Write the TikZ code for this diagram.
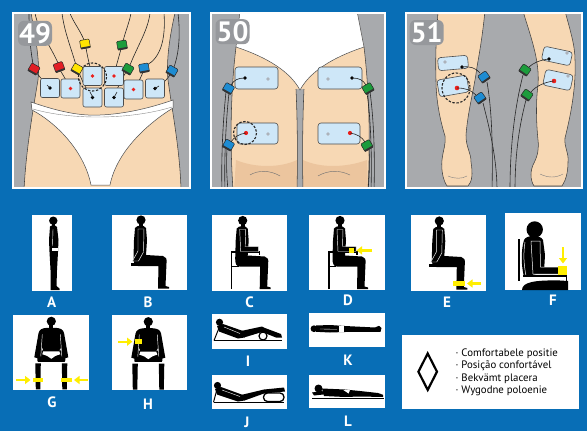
\documentclass[tikz,border=0pt]{standalone}
\usepackage{fontspec}
\setmainfont{PT Sans}
\usetikzlibrary{arrows.meta}

\definecolor{bgblue}{RGB}{8,110,182}
\definecolor{panelgray}{RGB}{168,170,173}
\definecolor{numgray}{RGB}{150,152,156}
\definecolor{skin}{RGB}{247,216,180}
\definecolor{skinshade}{RGB}{236,197,158}
\definecolor{padblue}{RGB}{206,231,248}
\definecolor{dotred}{RGB}{236,32,28}
\definecolor{dotgray}{RGB}{172,178,186}
\definecolor{conred}{RGB}{226,30,36}
\definecolor{conyellow}{RGB}{255,228,0}
\definecolor{congreen}{RGB}{28,156,60}
\definecolor{conblue}{RGB}{30,140,210}
\definecolor{cuff}{RGB}{255,238,0}

\tikzset{
  panelframe/.style={fill=panelgray, draw=white, line width=1.8pt},
  card/.style={fill=white, draw=none},
  outline/.style={draw=black!75, line width=0.55pt},
  cable/.style={draw=black!85, line width=0.6pt},
  padshape/.style={fill=padblue, draw=black!70, line width=0.6pt},
  ring/.style={draw=black!85, line width=1.1pt, dash pattern=on 2.4pt off 1.6pt},
  yarrow/.style={draw=cuff, line width=2.4pt, -{Triangle[width=8pt,length=5.5pt]}},
  letter/.style={text=white, font=\fontsize{15}{15}\selectfont\bfseries, inner sep=0pt},
  legendtext/.style={font=\fontsize{10.8}{12.4}\selectfont, align=left, anchor=west, inner sep=0pt},
}

% coloured electrode plug: x, y, rotation, colour
\newcommand{\plug}[4]{%
  \begin{scope}[shift={(#1,#2)}, rotate=#3]
    \filldraw[fill=#4, draw=black!85, line width=0.5pt, rounded corners=1pt] (-4.8,-4.3) rectangle (4.8,4.3);
    \fill[black!80] (-4.8,2.8) rectangle (4.8,4.6);
  \end{scope}}
% square abdominal pad: x, y, colour of the contact point
\newcommand{\sqpad}[3]{%
  \filldraw[padshape, rounded corners=2pt] ({#1-9.5},{#2-9.5}) rectangle ({#1+9.5},{#2+9.5});
  \fill[#3] (#1,#2) circle (1.9);}
% rectangular pad: x, y, width, height, rotation
\newcommand{\rpad}[5]{%
  \begin{scope}[shift={(#1,#2)}, rotate=#5]
    \filldraw[padshape, rounded corners=3pt] ({-#3/2},{-#4/2}) rectangle ({#3/2},{#4/2});
  \end{scope}}
% seated person seen from the side, origin at the back of the hip
\newcommand{\sideSitter}[2]{%
  \begin{scope}[shift={(#1,#2)}]
    \fill (6,-42) circle (4.6);
    \fill (4,-39) rectangle (8,-35);
    \fill (0,-34) .. controls (2,-37) and (9,-37.5) .. (11,-34) -- (12,-22) -- (11,-7) -- (28,-6)
      .. controls (31,-5.5) and (32,-3) .. (31.5,1) -- (30.5,24) -- (34,25) -- (34,26.5) -- (23,26.5)
      -- (23.5,4) -- (3,4) .. controls (-0.5,4) and (-1.5,1) .. (-1.5,-4) -- (-1,-22) -- cycle;
  \end{scope}}
\newcommand{\armDown}[2]{%
  \filldraw[black, draw=white, line width=0.45pt, shift={(#1,#2)}] (3,-33) -- (9,-33) -- (8.5,-10) -- (3.5,-1) -- (-2.5,-1) -- (3,-11) -- cycle;}
\newcommand{\armFwd}[2]{%
  \filldraw[black, draw=white, line width=0.45pt, shift={(#1,#2)}] (3,-33) -- (9,-33) -- (8.5,-16) -- (22,-16) -- (22,-11) -- (4,-11) -- cycle;}
\newcommand{\stool}[2]{\fill[shift={(#1,#2)}] (-4.5,1) rectangle (5,4);}
\newcommand{\armchair}[2]{%
  \draw[line width=1.5pt, shift={(#1,#2)}] (-5,26.5) -- (-5,-10.5) -- (23,-10.5) -- (23,-7.5);
  \draw[line width=1.5pt, shift={(#1,#2)}] (-5,4) -- (2,4);}
% seated person seen from the front, origin at the centre of the head
\newcommand{\frontSitter}[2]{%
  \begin{scope}[shift={(#1,#2)}]
    \fill (0,0) circle (4.6);
    \fill (-2,3) rectangle (2,7.5);
    \fill (-4,6.5) -- (4,6.5) .. controls (9,6.8) and (12,8) .. (12.8,12) -- (17,36) -- (12,37.5) -- (9,26) -- (8,30)
       -- (-8,30) -- (-9,26) -- (-12,37.5) -- (-17,36) -- (-12.8,12) .. controls (-12,8) and (-9,6.8) .. cycle;
    \fill[rounded corners=2pt] (-14,29) rectangle (14,41);
    \draw[white, line width=0.45pt] (-9,13) -- (-10.5,35) (9,13) -- (10.5,35);
    \fill[white] (-8,30) -- (8,30) -- (9,33) .. controls (5,34) and (2,35.5) .. (0,37.5) .. controls (-2,35.5) and (-5,34) .. (-9,33) -- cycle;
    \draw[white, line width=0.6pt] (-17,40.5) -- (17,40.5);
    \fill (-16,42) -- (-10.5,42) -- (-11,68) -- (-15.5,68) -- cycle;
    \fill (10.5,42) -- (16,42) -- (15.5,68) -- (11,68) -- cycle;
  \end{scope}}
% panel number on a soft grey patch
\newcommand{\panelnum}[4]{%
  \fill[numgray, rounded corners=6pt] ({#1-17},{#2-12.5}) rectangle ({#1+17},{#2+12.5});
  \node[text=white, font=\fontsize{28}{28}\selectfont\bfseries, inner sep=0pt] (#4) at (#1,#2) {#3};}

\begin{document}
\begin{tikzpicture}[x=1pt,y=-1pt]
\useasboundingbox (0,0) rectangle (587,431);
\fill[bgblue] (0,0) rectangle (587,431);

%% ---------------- panel 49: abdomen ----------------
\fill[panelgray] (13,13) rectangle (190,188);
\begin{scope}
  \clip (13,13) rectangle (190,188);
  \fill[skin] (31,13) .. controls (36,40) and (40,62) .. (38,80) .. controls (33,110) and (26,150) .. (24,190)
    -- (181,190) .. controls (180,150) and (172,110) .. (168,80) .. controls (166,60) and (170,35) .. (175,13) -- cycle;
  \draw[outline] (31,13) .. controls (36,40) and (40,62) .. (38,80) .. controls (33,110) and (26,150) .. (24,190);
  \draw[outline] (181,190) .. controls (180,150) and (172,110) .. (168,80) .. controls (166,60) and (170,35) .. (175,13);
  \filldraw[fill=white, draw=black!70, line width=0.5pt] (31,102) .. controls (60,112) and (80,116) .. (100,115)
    .. controls (125,114) and (150,108) .. (173,100) -- (173,108) .. controls (150,122) and (117,150) .. (110,185)
    -- (91,185) .. controls (84,150) and (55,122) .. (32,110) -- cycle;
  \draw[black!45, line width=0.4pt] (33,109) .. controls (70,120) and (130,120) .. (172,107);
  % leads
  \draw[cable] (34,69) .. controls (30,50) and (29,30) .. (29,13);
  \draw[cable] (58,63) .. controls (50,45) and (38,30) .. (35,13);
  \draw[cable] (84,40) .. controls (80,30) and (72,20) .. (70,13);
  \draw[cable] (76,65) .. controls (70,45) and (64,30) .. (62,13);
  \draw[cable] (123,41) .. controls (126,30) and (130,20) .. (131,13);
  \draw[cable] (130,65) .. controls (138,45) and (148,30) .. (150,13);
  \draw[cable] (147,65) .. controls (160,58) and (166,40) .. (164,13);
  \draw[cable] (174,67) .. controls (180,50) and (180,30) .. (178,13);
  \draw[cable] (36,72) .. controls (42,80) and (47,85) .. (50,88);
  \draw[cable] (60,70) .. controls (65,78) and (68,84) .. (70,88);
  \draw[cable] (86,48) .. controls (88,60) and (91,70) .. (92,76);
  \draw[cable] (79,72) .. controls (82,82) and (88,92) .. (93,98);
  \draw[cable] (121,49) .. controls (118,60) and (115,70) .. (114,76);
  \draw[cable] (126,72) .. controls (120,82) and (116,92) .. (113,98);
  \draw[cable] (143,72) .. controls (140,80) and (136,86) .. (134,90);
  \draw[cable] (170,75) .. controls (165,82) and (160,86) .. (156,89);
\end{scope}
% pads
\sqpad{50}{88}{black}
\sqpad{70.5}{88.5}{dotred}
\sqpad{92.5}{76}{dotred}
\sqpad{114}{76}{dotred}
\sqpad{92.5}{97.5}{black}
\sqpad{114}{97.5}{black}
\sqpad{133.5}{89.5}{dotred}
\sqpad{155}{88.5}{black}
\draw[cable] (50,88) -- (47,85);
\draw[cable] (93,97.5) -- (90,92);
\draw[cable] (114,97.5) -- (117,92);
\draw[cable] (155,88.5) -- (159,86);
\draw[ring] (92.5,77) circle (14);
% plugs
\plug{34}{69}{-30}{conred}
\plug{59}{67}{20}{conred}
\plug{85}{44}{10}{conyellow}
\plug{77}{69}{-30}{conyellow}
\plug{122}{45}{10}{congreen}
\plug{128}{69}{-30}{congreen}
\plug{144}{68}{10}{conblue}
\plug{172}{71}{-30}{conblue}
\panelnum{35}{33.3}{49}{n49}
\draw[white, line width=1.8pt] (13,13) rectangle (190,188);

%% ---------------- panel 50: thighs ----------------
\fill[panelgray] (211,13) rectangle (385,188);
\begin{scope}
  \clip (211,13) rectangle (385,188);
  \fill[skin] (240,13) -- (236,47) .. controls (232,80) and (229,130) .. (233,190) -- (297,190)
    .. controls (298,150) and (297,110) .. (296,89) -- (304,89) .. controls (303,110) and (302,150) .. (303,190)
    -- (368,190) .. controls (371,130) and (368,80) .. (364,47) -- (357,13) -- cycle;
  \fill[skinshade] (236,160) .. controls (255,168) and (280,168) .. (297,160) -- (297,190) -- (234,190) -- cycle;
  \fill[skinshade] (303,160) .. controls (320,168) and (345,168) .. (367,160) -- (368,190) -- (303,190) -- cycle;
  \draw[outline] (236,47) .. controls (232,80) and (229,130) .. (233,190);
  \draw[outline] (297,190) .. controls (298,150) and (297,110) .. (296,89);
  \draw[outline] (304,89) .. controls (303,110) and (302,150) .. (303,190);
  \draw[outline] (368,190) .. controls (371,130) and (368,80) .. (364,47);
  \draw[black!55, line width=0.45pt] (250,175) .. controls (258,170) and (270,170) .. (280,176);
  \draw[black!55, line width=0.45pt] (318,176) .. controls (328,170) and (340,170) .. (350,175);
  \filldraw[fill=white, draw=black!70, line width=0.5pt] (240,11) -- (357,11) -- (364,47)
    .. controls (340,55) and (312,68) .. (300,90) .. controls (288,68) and (260,55) .. (236,47) -- cycle;
  % leads
  \draw[cable] (226,92) .. controls (223,120) and (221,160) .. (222,190);
  \draw[cable] (229,93) .. controls (226,120) and (224,160) .. (225,190);
  \draw[cable] (227,149) .. controls (226,165) and (227,180) .. (228,190);
  \draw[cable] (370,92) .. controls (374,120) and (375,160) .. (374,190);
  \draw[cable] (367,93) .. controls (371,120) and (372,160) .. (371,190);
  \draw[cable] (369,150) .. controls (370,165) and (369,180) .. (368,190);
\end{scope}
\rpad{256.5}{78}{43}{22}{0}
\rpad{340}{78}{44}{22}{0}
\rpad{257.5}{133.5}{41}{21}{0}
\rpad{339}{133.5}{42}{21}{0}
\fill[black] (245,78) circle (1.9);
\fill[dotgray] (268,79) circle (1.9);
\fill[dotgray] (328,79) circle (1.9);
\fill[black] (352,78) circle (1.9);
\fill[dotred] (246,133) circle (2.1);
\fill[dotgray] (268,134) circle (1.9);
\fill[dotgray] (328,134) circle (1.9);
\fill[dotred] (350,133) circle (2.1);
\draw[cable] (245,78) .. controls (238,78) and (234,80) .. (231,85);
\draw[cable] (246,133) .. controls (239,134) and (234,137) .. (231,142);
\draw[cable] (352,78) .. controls (359,78) and (363,80) .. (366,85);
\draw[cable] (350,133) .. controls (357,134) and (362,137) .. (365,142);
\draw[ring] (245,133) circle (11.5);
\plug{228.5}{88.5}{-30}{conblue}
\plug{228.5}{145}{-30}{conblue}
\plug{368}{88.5}{30}{congreen}
\plug{367}{145.5}{30}{congreen}
\panelnum{232.5}{31.7}{50}{n50}
\draw[white, line width=1.8pt] (211,13) rectangle (385,188);

%% ---------------- panel 51: calves ----------------
\fill[panelgray] (406,13) rectangle (582,188);
\begin{scope}
  \clip (406,13) rectangle (582,188);
  % left leg
  \filldraw[fill=skin, draw=black!75, line width=0.55pt] (438,11) -- (485,11) .. controls (482,40) and (479,55) .. (477,67)
    .. controls (474,90) and (468,110) .. (466,135) .. controls (466,148) and (471,152) .. (471,162)
    .. controls (473,174) and (472,182) .. (468,186) -- (447,186) .. controls (443,180) and (441,170) .. (442,160)
    .. controls (443,150) and (446,145) .. (445,136) .. controls (440,120) and (436,100) .. (436,80)
    .. controls (435,50) and (437,30) .. (438,11) -- cycle;
  % right leg
  \filldraw[fill=skin, draw=black!75, line width=0.55pt] (523,11) -- (565,11) .. controls (570,30) and (575,45) .. (575,60)
    .. controls (576,85) and (572,110) .. (565,138) .. controls (564,148) and (569,152) .. (568,162)
    .. controls (568,172) and (566,180) .. (562,186) -- (534,186) .. controls (530,180) and (530,170) .. (534,163)
    .. controls (538,155) and (539,148) .. (538,140) .. controls (536,120) and (536,100) .. (538,85)
    .. controls (540,60) and (530,35) .. (523,11) -- cycle;
  \draw[black!50, line width=0.4pt] (448,176) .. controls (455,179) and (462,179) .. (467,176);
  \draw[black!50, line width=0.4pt] (540,174) .. controls (548,178) and (556,178) .. (563,174);
  % leads
  \draw[cable] (487,82) .. controls (492,110) and (493,150) .. (492,190);
  \draw[cable] (483,103) .. controls (490,130) and (497,160) .. (497,190);
  \draw[cable] (523,75) .. controls (514,110) and (510,150) .. (510,190);
  \draw[cable] (526,100) .. controls (518,130) and (515,160) .. (515,190);
\end{scope}
\rpad{453}{63}{30}{13}{5}
\rpad{453}{86}{30}{17}{10}
\rpad{557}{56}{29}{14}{-12}
\rpad{558}{80}{28}{16}{-12}
\fill[dotgray] (445,62) circle (1.9);
\fill[black] (462,67) circle (1.9);
\fill[dotred] (457,88) circle (2.3);
\fill[black] (549,59) circle (1.9);
\fill[dotgray] (567,53) circle (1.9);
\fill[dotred] (554,81) circle (2.3);
\fill[dotgray] (568,76) circle (1.9);
\draw[cable] (462,67) .. controls (470,66) and (476,68) .. (480,73);
\draw[cable] (457,88) .. controls (465,88) and (471,90) .. (476,95);
\draw[cable] (549,59) .. controls (540,60) and (533,63) .. (529,67);
\draw[cable] (554,81) .. controls (545,82) and (536,86) .. (531,92);
\draw[ring] (456,88) ellipse (14 and 15);
\plug{484}{77}{35}{conblue}
\plug{480}{98}{35}{conblue}
\plug{525}{70}{-35}{congreen}
\plug{527}{95}{-35}{congreen}
\panelnum{426.7}{32.5}{51}{n51}
\draw[white, line width=1.8pt] (406,13) rectangle (582,188);

%% ---------------- positions ----------------
% A: standing
\fill[card] (32.3,215) rectangle (71.7,290.7);
\fill (53.3,220.7) circle (4.2);
\fill (51.5,224) rectangle (55,227);
\fill (50,226.5) .. controls (51,225) and (56,225) .. (57,227) -- (58.5,240) -- (58,252) -- (57,270) -- (56.5,286)
  -- (59.5,288.5) -- (59.5,290) -- (50.5,290) -- (50.5,270) -- (49.5,252) -- (49,240) -- cycle;
\fill[white] (51.5,248) rectangle (57.5,250.7);
\draw[white, line width=0.4pt] (53,229) -- (52.5,246);
\node[letter] (la) at (51.7,302) {A};

% B: on a stool
\fill[card] (111.7,215) rectangle (187.3,290);
\sideSitter{135}{262}
\armDown{135}{262}
\stool{135}{262}
\node[letter] (lb) at (148,302) {B};

% C: in an armchair
\fill[card] (212.3,215) rectangle (287.3,290.7);
\armchair{236.7}{262.5}
\sideSitter{236.7}{262.5}
\armFwd{236.7}{262.5}
\node[letter] (lc) at (249.5,302) {C};

% D: armchair, band on the forearm
\fill[card] (309.3,215) rectangle (385,290);
\armchair{334}{262.5}
\sideSitter{334}{262.5}
\armFwd{334}{262.5}
\fill[cuff] (349.3,247.5) rectangle (354.3,253.3);
\draw[yarrow] (372,250.4) -- (356.5,250.4);
\node[letter] (ld) at (348,300.5) {D};

% E: stool, band on the ankle
\fill[card] (410.7,215) rectangle (486,290.7);
\sideSitter{433.3}{263}
\armDown{433.3}{263}
\stool{433.3}{263}
\fill[cuff] (453,281) rectangle (465,286);
\draw[yarrow] (480.5,283.5) -- (467,283.5);
\node[letter] (le) at (447,302) {E};

% F: close-up, band on the wrist
\fill[card] (505,213.3) rectangle (580.7,290);
\draw[line width=1.4pt] (519,239) -- (519,281);
\fill (534.7,229.5) circle (8.2);
\fill (524,240) .. controls (526,235) and (540,234) .. (543,240) -- (545,255) -- (544,272) -- (524,277)
  .. controls (521,265) and (521,250) .. cycle;
\filldraw[black, draw=white, line width=0.5pt] (531,241) -- (540,241) -- (540.5,267) -- (559,267) -- (559,274)
  -- (533,274) -- cycle;
\draw[white, line width=0.5pt] (525,242) .. controls (523,255) and (524,265) .. (526,276);
\fill (522,290) .. controls (522,282) and (535,280) .. (560,280.5) -- (568,281) -- (568,290) -- cycle;
\draw[line width=1.2pt] (523,276) -- (566.5,276) -- (566.5,287);
\fill[cuff] (558,266) rectangle (567,274.5);
\draw[yarrow] (563,247) -- (563,263.5);
\node[letter] (lf) at (553,300.5) {F};

% G: front view, bands on both shins
\fill[card] (13.3,315) rectangle (89,390);
\frontSitter{51.3}{321.3}
\fill[cuff] (33,377.8) rectangle (42.7,382.3);
\fill[cuff] (61,377.8) rectangle (71.5,382.3);
\draw[yarrow] (16,380) -- (30.5,380);
\draw[yarrow] (87.5,380) -- (74,380);
\node[letter] (lg) at (52,402.5) {G};

% H: front view, band on the upper arm
\fill[card] (111.7,315) rectangle (187.3,390);
\frontSitter{148.3}{321.7}
\fill[cuff] (134.5,339) rectangle (141.7,344.3);
\draw[yarrow] (118,341.7) -- (132.5,341.7);
\node[letter] (lh) at (148,404) {H};

% I: half reclined, roll under the knees
\fill[card] (211.7,314) rectangle (286.7,349);
\draw[line width=0.9pt] (214,340.5) -- (282,340.5);
\draw[line width=1pt] (214,340.5) -- (219,328);
\fill (219.5,322.3) circle (3.6);
\fill (217,326) -- (223,324) -- (243,331) -- (244.5,337.5) -- (238,338.5) -- (219,331.5) -- cycle;
\fill (241,331) -- (262,326.5) -- (265,328) -- (281,334) -- (282,337.5) -- (276,337.5) -- (262,332) -- (244,337.5) -- cycle;
\draw[white, line width=0.4pt] (224,327) -- (240,333.5);
\filldraw[fill=white, draw=black, line width=1.2pt] (263,336) circle (4);
\node[letter] (li) at (248,361.7) {I};

% J: half reclined, legs on a cushion
\fill[card] (211.7,375) rectangle (286.7,409.3);
\draw[line width=0.9pt] (214,402.3) -- (284,402.3);
\draw[line width=1pt] (213.5,402.3) -- (216.5,391);
\fill (217.5,385.5) circle (3.6);
\fill (215,389) -- (221,387) -- (243,395) -- (244.5,400.5) -- (238,401.5) -- (217,394.5) -- cycle;
\fill (241,395) -- (264,389.5) -- (284,387.5) -- (285,391.5) -- (264,393.5) -- (244.5,400.5) -- cycle;
\draw[white, line width=0.4pt] (222,390) -- (240,396.5);
\filldraw[fill=white, draw=black, line width=1.3pt, rounded corners=4pt] (263.5,393) rectangle (284,401.5);
\node[letter] (lj) at (247,422) {J};

% K: lying on the back
\fill[card] (309.3,313.3) rectangle (385,346.7);
\fill (314,328.7) circle (3.4);
\fill (316,325.5) -- (330,325) -- (345,326) -- (375,327.5) -- (379,325.8) -- (381.5,328) -- (380.5,331.8)
  -- (345,332) -- (330,332.5) -- (316,331.8) -- cycle;
\fill[white] (338.5,326.3) rectangle (343.5,331.8);
\draw[white, line width=0.35pt] (320,329) -- (337,329.3);
\node[letter] (lk) at (348,360) {K};

% L: lying on the front
\fill[card] (309.3,375) rectangle (385,408.3);
\fill (318.5,388.5) circle (4);
\fill (312,392.5) -- (322,391) -- (328,394) -- (314,395.5) -- cycle;
\fill (322,388.5) -- (345,389.5) -- (360,391) -- (378,393) -- (383,394.8) -- (383,397) -- (360,396.5)
  -- (345,397) -- (324,396) -- cycle;
\fill[white] (343,389.8) -- (350,390.3) -- (348.5,393.5) -- cycle;
\draw[line width=0.5pt] (312,397.8) -- (384,397.8);
\node[letter] (ll) at (348,421) {L};

%% ---------------- legend ----------------
\fill[card] (402.3,335) rectangle (579.3,409);
\draw[line width=2.2pt, line join=miter] (427.7,353.5) -- (437,371.7) -- (427.7,389.9) -- (418.4,371.7) -- cycle;
\node[legendtext] (legend) at (455.5,372.2) {· Comfortabele positie\\· Posição confortável\\· Bekvämt placera\\· Wygodne poloenie};

\end{tikzpicture}
\end{document}
